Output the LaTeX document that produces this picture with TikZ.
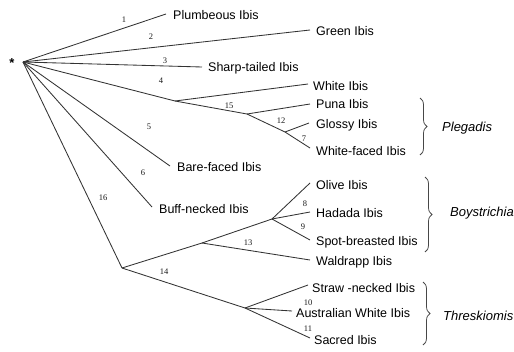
\documentclass[tikz,border=0pt]{standalone}
\usepackage{fontspec}
\setmainfont{Liberation Sans}
\newfontfamily\numfont{Liberation Serif}
\usetikzlibrary{decorations.pathreplacing}
\begin{document}
\begin{tikzpicture}[x=1pt,y=-1pt,
  br/.style={draw=black!80,line width=0.85pt},
  sp/.style={anchor=west,inner sep=0pt,font=\fontsize{12.5}{14}\selectfont,text=black},
  num/.style={inner sep=0pt,font=\numfont\fontsize{8.5}{9}\selectfont,text=black!90},
  gen/.style={anchor=west,inner sep=0pt,font=\fontsize{13}{15}\selectfont\itshape,text=black},
  brc/.style={draw=black!72,line width=0.75pt,decorate,decoration={brace,amplitude=7pt,aspect=0.5}}]
\useasboundingbox (0,0) rectangle (514,351);
% root and internal nodes
\coordinate (R) at (23,62);
\coordinate (n4) at (175,101);
\coordinate (n15) at (247,114);
\coordinate (n12) at (285,132);
\coordinate (n16) at (122,268);
\coordinate (n13) at (202,243);
\coordinate (nB) at (272,219);
\coordinate (n14) at (245,308);
% leaf line ends
\coordinate (ePl) at (166,14);
\coordinate (eGr) at (310,30);
\coordinate (eSh) at (202,67);
\coordinate (eWh) at (308,84);
\coordinate (ePu) at (310,104);
\coordinate (eGl) at (309,123);
\coordinate (eWf) at (310,148);
\coordinate (eBa) at (170,166);
\coordinate (eBu) at (152,207);
\coordinate (eOl) at (310,183);
\coordinate (eHa) at (310,212);
\coordinate (eSp) at (310,240);
\coordinate (eWa) at (310,260);
\coordinate (eSt) at (308,285);
\coordinate (eAu) at (292,311);
\coordinate (eSa) at (310,338);
% asterisk
\node[inner sep=0pt,font=\fontsize{13}{13}\selectfont\bfseries] (ast) at (12,63) {*};
% branches
\draw[br] (R) -- (ePl);
\draw[br] (R) -- (eGr);
\draw[br] (R) -- (eSh);
\draw[br] (R) -- (n4);
\draw[br] (n4) -- (eWh);
\draw[br] (n4) -- (n15);
\draw[br] (n15) -- (ePu);
\draw[br] (n15) -- (n12);
\draw[br] (n12) -- (eGl);
\draw[br] (n12) -- (eWf);
\draw[br] (R) -- (eBa);
\draw[br] (R) -- (eBu);
\draw[br] (R) -- (n16);
\draw[br] (n16) -- (n13);
\draw[br] (n13) -- (nB);
\draw[br] (nB) -- (eOl);
\draw[br] (nB) -- (eHa);
\draw[br] (nB) -- (eSp);
\draw[br] (n13) -- (eWa);
\draw[br] (n16) -- (n14);
\draw[br] (n14) -- (eSt);
\draw[br] (n14) -- (eAu);
\draw[br] (n14) -- (eSa);
% species names
\node[sp] (tPl) at (173,15) {Plumbeous Ibis};
\node[sp] (tGr) at (316,31) {Green Ibis};
\node[sp] (tSh) at (208,68) {Sharp-tailed Ibis};
\node[sp] (tWh) at (313,86) {White Ibis};
\node[sp] (tPu) at (316,104) {Puna Ibis};
\node[sp] (tGl) at (316,125) {Glossy Ibis};
\node[sp] (tWf) at (316,151) {White-faced Ibis};
\node[sp] (tBa) at (177,167) {Bare-faced Ibis};
\node[sp] (tBu) at (159,209) {Buff-necked Ibis};
\node[sp] (tOl) at (316,185) {Olive Ibis};
\node[sp] (tHa) at (316,213) {Hadada Ibis};
\node[sp] (tSp) at (316,242) {Spot-breasted Ibis};
\node[sp] (tWa) at (316,262) {Waldrapp Ibis};
\node[sp] (tSt) at (312,288) {Straw -necked Ibis};
\node[sp] (tAu) at (296,313) {Australian White Ibis};
\node[sp] (tSa) at (314,340) {Sacred Ibis};
% branch numbers
\node[num] (l1) at (124,20) {1};
\node[num] (l2) at (151,37) {2};
\node[num] (l3) at (165,61) {3};
\node[num] (l4) at (161,81) {4};
\node[num] (l5) at (149,127) {5};
\node[num] (l6) at (143,173) {6};
\node[num] (l15) at (229,106) {15};
\node[num] (l12) at (281,121) {12};
\node[num] (l7) at (304,139) {7};
\node[num] (l16) at (103,198) {16};
\node[num] (l8) at (305,204) {8};
\node[num] (l9) at (303,227) {9};
\node[num] (l13) at (248,243) {13};
\node[num] (l14) at (164,272) {14};
\node[num] (l10) at (308,303) {10};
\node[num] (l11) at (308,329) {11};
% braces
\coordinate (bPa) at (420,98);
\coordinate (bPb) at (420,155);
\coordinate (bBa) at (425,177);
\coordinate (bBb) at (425,252);
\coordinate (bTa) at (423,282);
\coordinate (bTb) at (423,345);
\draw[brc] (bPa) -- (bPb);
\draw[brc] (bBa) -- (bBb);
\draw[brc] (bTa) -- (bTb);
\node[gen] (gP) at (442,128) {Plegadis};
\node[gen] (gB) at (450,213) {Boystrichia};
\node[gen] (gT) at (443,316) {Threskiomis};
\end{tikzpicture}
\end{document}
